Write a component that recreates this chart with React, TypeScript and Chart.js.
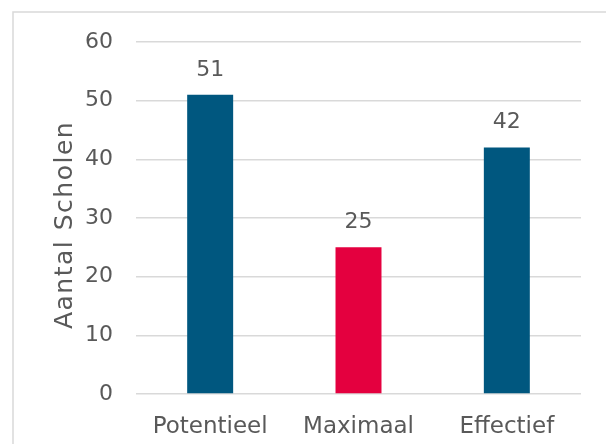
import React, { useEffect, useRef } from "react";
import { Chart, registerables } from "chart.js";

Chart.register(...registerables);

const categories = ["Potentieel", "Maximaal", "Effectief"];
const values = [51, 25, 42];
const barColors = ["#00577F", "#E4003F", "#00577F"];
const yTicks = [0, 10, 20, 30, 40, 50, 60];
const yTitle = "Aantal Scholen";

const FONT = "'DejaVu Sans', sans-serif";
const TEXT = "#595959";
const GRID = "#D9D9D9";

export default function App() {
  const ref = useRef<HTMLCanvasElement | null>(null);
  useEffect(() => {
    if (!ref.current) return;
    const framePlugin = {
      id: "frame",
      beforeDraw(chart: any) {
        const ctx = chart.ctx;
        ctx.save();
        ctx.strokeStyle = GRID;
        ctx.lineWidth = 1.5;
        ctx.beginPath();
        ctx.moveTo(13, 444);
        ctx.lineTo(13, 12);
        ctx.lineTo(606, 12);
        ctx.stroke();
        ctx.restore();
      },
    };
    const titlePlugin = {
      id: "yTitle",
      afterDraw(chart: any) {
        const ctx = chart.ctx;
        const a = chart.chartArea;
        ctx.save();
        ctx.fillStyle = TEXT;
        ctx.font = `25px ${FONT}`;
        (ctx as any).letterSpacing = "1.5px";
        ctx.textAlign = "center";
        ctx.textBaseline = "middle";
        ctx.translate(65, (a.top + a.bottom) / 2 + 7);
        ctx.rotate(-Math.PI / 2);
        ctx.fillText(yTitle, 0, 0);
        ctx.restore();
      },
    };
    const labelPlugin = {
      id: "valueLabels",
      afterDatasetsDraw(chart: any) {
        const ctx = chart.ctx;
        const meta = chart.getDatasetMeta(0);
        ctx.save();
        ctx.fillStyle = TEXT;
        ctx.font = `22px ${FONT}`;
        ctx.textAlign = "center";
        ctx.textBaseline = "middle";
        meta.data.forEach((bar: any, i: number) => {
          ctx.fillText(String(values[i]), bar.x, bar.y - 25);
        });
        ctx.restore();
      },
    };
    const chart = new Chart(ref.current, {
      type: "bar",
      data: {
        labels: categories,
        datasets: [
          {
            data: values,
            backgroundColor: barColors,
            barPercentage: 0.31,
            categoryPercentage: 1,
          },
        ],
      },
      options: {
        animation: false,
        responsive: true,
        maintainAspectRatio: false,
        layout: { padding: { left: 0, top: 42, right: 25, bottom: 0 } },
        plugins: { legend: { display: false }, tooltip: { enabled: false } },
        scales: {
          x: {
            grid: { display: false },
            border: { display: false },
            ticks: { color: TEXT, font: { family: FONT, size: 23 }, padding: 11 },
            afterFit: (s: any) => {
              s.height = 50;
            },
          },
          y: {
            min: 0,
            max: 60,
            afterBuildTicks: (s: any) => {
              s.ticks = yTicks.map((v) => ({ value: v }));
            },
            grid: { color: GRID, lineWidth: 1.5, drawTicks: false },
            border: { display: false },
            ticks: { color: TEXT, font: { family: FONT, size: 22 }, padding: 23 },
            afterFit: (s: any) => {
              s.width = 136;
            },
          },
        },
      },
      plugins: [framePlugin, labelPlugin, titlePlugin],
    });
    return () => chart.destroy();
  }, []);
  return (
    <div style={{ position: "fixed", left: 0, top: 0, width: 606, height: 444, background: "#fff" }}>
      <canvas ref={ref} />
    </div>
  );
}
